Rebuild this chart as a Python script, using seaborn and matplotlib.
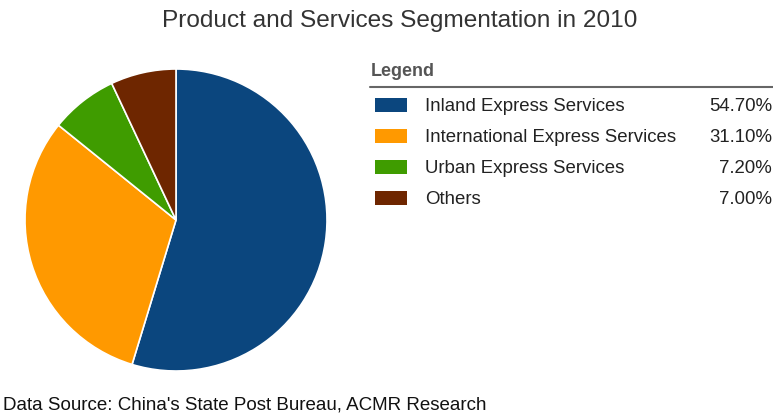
import matplotlib
matplotlib.use("Agg")
import matplotlib.pyplot as plt
import seaborn as sns
from matplotlib.patches import Rectangle
from matplotlib.lines import Line2D

categories = ["Inland Express Services", "International Express Services",
              "Urban Express Services", "Others"]
shares = [54.70, 31.10, 7.20, 7.00]
pct_labels = ["54.70%", "31.10%", "7.20%", "7.00%"]
colors = ["#0B467E", "#FF9900", "#3F9C00", "#6E2600"]
title = "Product and Services Segmentation in 2010"
source = "Data Source: China's State Post Bureau, ACMR Research"

sns.set_theme(style="white")
plt.rcParams['font.family'] = ['Liberation Sans', 'DejaVu Sans']

W, H = 773, 414
fig = plt.figure(figsize=(W / 100, H / 100), dpi=100)
fig.patch.set_facecolor("white")

# pie axes
cx, cy, r = 176, 221, 151
ax = fig.add_axes([(cx - r) / W, 1 - (cy + r) / H, 2 * r / W, 2 * r / H])
ax.pie(shares, colors=colors, startangle=90, counterclock=False,
       wedgeprops=dict(edgecolor="white", linewidth=1.2))
ax.set_xlim(-1, 1)
ax.set_ylim(-1, 1)
ax.set_aspect("equal")
ax.axis("off")

# legend axes in pixel coords
lx = fig.add_axes([0, 0, 1, 1], facecolor="none")
lx.set_xlim(0, W)
lx.set_ylim(H, 0)
lx.axis("off")
lx.text(371, 71, "Legend", fontsize=12.9, fontweight="bold", color="#555555",
        va="center", ha="left")
lx.add_line(Line2D([370, 773], [88, 88], color="#666666", linewidth=1.5))
row_y = [106, 137, 168, 199]
for y, cat, pct, col in zip(row_y, categories, pct_labels, colors):
    lx.add_patch(Rectangle((375, y - 7), 32, 14, facecolor=col, edgecolor="none"))
    lx.text(425, y + 1, cat, fontsize=13.4, color="#222222", va="center", ha="left")
    lx.text(772, y + 1, pct, fontsize=13.4, color="#222222", va="center", ha="right")

lx.text(400, 21, title, fontsize=17.6, color="#333333", va="center", ha="center")
lx.text(3, 405, source, fontsize=13.5, color="#111111", va="center", ha="left")

fig.savefig("out.png", dpi=100, facecolor="white")
